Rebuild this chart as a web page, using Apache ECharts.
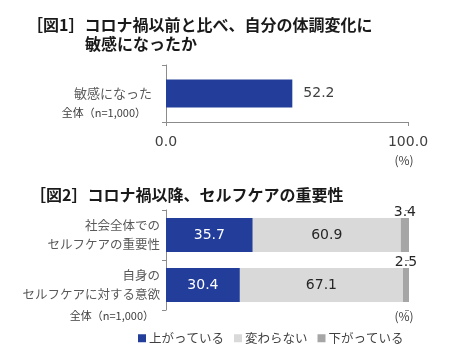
<!DOCTYPE html>
<html>
<head>
<meta charset="utf-8">
<script src="https://cdn.jsdelivr.net/npm/echarts@6/dist/echarts.min.js"></script>
<style>
  html, body { margin: 0; padding: 0; background: #fff; }
  #chart { width: 450px; height: 352px; }
</style>
</head>
<body>
<div id="chart"></div>
<script>
// 図1
const fig1Categories = ["敏感になった"];
const fig1Values = [52.2];
const fig1Ticks = [0, 100];

// 図2
const fig2Categories = ["社会全体での\nセルフケアの重要性", "自身の\nセルフケアに対する意欲"];
const seriesNames = ["上がっている", "変わらない", "下がっている"];
const upValues = [35.7, 30.4];
const sameValues = [60.9, 67.1];
const downValues = [3.4, 2.5];

const JP = "'Noto Sans CJK JP'";
const NUM = "'DejaVu Sans', 'Noto Sans CJK JP'";
const BLUE = "#223e9a";
const LIGHT = "#d9d9d9";
const DARK = "#a6a6a6";
const AXIS = "#8c8c8c";

const chart = echarts.init(document.getElementById("chart"));

const textEl = (text, x, y, align, size, color, weight) => ({
  type: "text",
  x: x,
  y: y,
  style: {
    text: text,
    align: align,
    verticalAlign: "middle",
    fill: color,
    font: (weight || "normal") + " " + size + "px " + JP
  }
});

chart.setOption({
  animation: false,
  grid: [
    { left: 166, right: 42, top: 65, height: 57 },
    { left: 166, right: 41, top: 210, height: 100 }
  ],
  legend: {
    data: seriesNames,
    left: 133,
    top: 327,
    itemWidth: 8,
    itemHeight: 8,
    itemGap: 10,
    icon: "rect",
    textStyle: { fontFamily: JP, fontSize: 12.5, color: "#404040", padding: [0, 0, 0, -2] }
  },
  xAxis: [
    {
      gridIndex: 0,
      type: "value",
      min: fig1Ticks[0],
      max: fig1Ticks[1],
      interval: 100,
      axisLine: { show: true, lineStyle: { color: AXIS } },
      axisTick: { show: true, length: 4, lineStyle: { color: AXIS } },
      splitLine: { show: false },
      axisLabel: {
        margin: 13,
        fontFamily: NUM,
        fontSize: 14,
        color: "#404040",
        formatter: (v) => v.toFixed(1)
      }
    },
    {
      gridIndex: 1,
      type: "value",
      min: 0,
      max: 100,
      show: false
    }
  ],
  yAxis: [
    {
      gridIndex: 0,
      type: "category",
      data: fig1Categories,
      axisLine: { show: true, lineStyle: { color: AXIS } },
      axisTick: { show: true, length: 4, lineStyle: { color: AXIS } },
      axisLabel: { margin: 14, fontFamily: JP, fontSize: 13, color: "#595959" }
    },
    {
      gridIndex: 1,
      type: "category",
      inverse: true,
      data: fig2Categories,
      axisLine: { show: true, lineStyle: { color: AXIS } },
      axisTick: { show: true, length: 4, lineStyle: { color: AXIS } },
      axisLabel: { margin: 6, fontFamily: JP, fontSize: 12.5, lineHeight: 19, color: "#595959", align: "right" }
    },
    {
      // 内側の目盛り（十字に見せるため）
      gridIndex: 1,
      type: "category",
      inverse: true,
      data: fig2Categories,
      axisLine: { show: false },
      axisTick: { show: true, inside: true, length: 4, lineStyle: { color: AXIS } },
      axisLabel: { show: false }
    }
  ],
  series: [
    {
      name: "敏感になった",
      type: "bar",
      xAxisIndex: 0,
      yAxisIndex: 0,
      data: fig1Values,
      barWidth: 28,
      itemStyle: { color: BLUE },
      label: {
        show: true,
        position: "right",
        distance: 11,
        fontFamily: NUM,
        fontSize: 14,
        color: "#404040",
        formatter: (p) => p.value.toFixed(1)
      }
    },
    {
      name: seriesNames[0],
      type: "bar",
      stack: "fig2",
      xAxisIndex: 1,
      yAxisIndex: 1,
      data: upValues,
      barWidth: 34,
      itemStyle: { color: BLUE },
      label: { show: true, position: "inside", fontFamily: NUM, fontSize: 14, color: "#ffffff", formatter: (p) => p.value.toFixed(1) }
    },
    {
      name: seriesNames[1],
      type: "bar",
      stack: "fig2",
      xAxisIndex: 1,
      yAxisIndex: 1,
      data: sameValues,
      barWidth: 34,
      itemStyle: { color: LIGHT },
      label: { show: true, position: "inside", fontFamily: NUM, fontSize: 14, color: "#262626", formatter: (p) => p.value.toFixed(1) }
    },
    {
      name: seriesNames[2],
      type: "bar",
      stack: "fig2",
      xAxisIndex: 1,
      yAxisIndex: 1,
      data: downValues,
      barWidth: 34,
      itemStyle: { color: DARK },
      label: { show: true, position: "top", distance: -1, fontFamily: NUM, fontSize: 14, color: "#262626", formatter: (p) => p.value.toFixed(1) }
    }
  ],
  graphic: [
    textEl("［図1］コロナ禍以前と比べ、自分の体調変化に", 27, 25, "left", 16, "#1a1a1a", "bold"),
    textEl("敏感になったか", 85, 44, "left", 16, "#1a1a1a", "bold"),
    textEl("全体（n=1,000）", 146, 113, "right", 11, "#404040"),
    textEl("(%)", 404, 160, "center", 12, "#404040"),
    textEl("［図2］コロナ禍以降、セルフケアの重要性", 30, 195, "left", 16, "#1a1a1a", "bold"),
    textEl("全体（n=1,000）", 154, 316, "right", 11, "#404040"),
    textEl("(%)", 404, 316, "center", 12, "#404040")
  ]
});
</script>
</body>
</html>
